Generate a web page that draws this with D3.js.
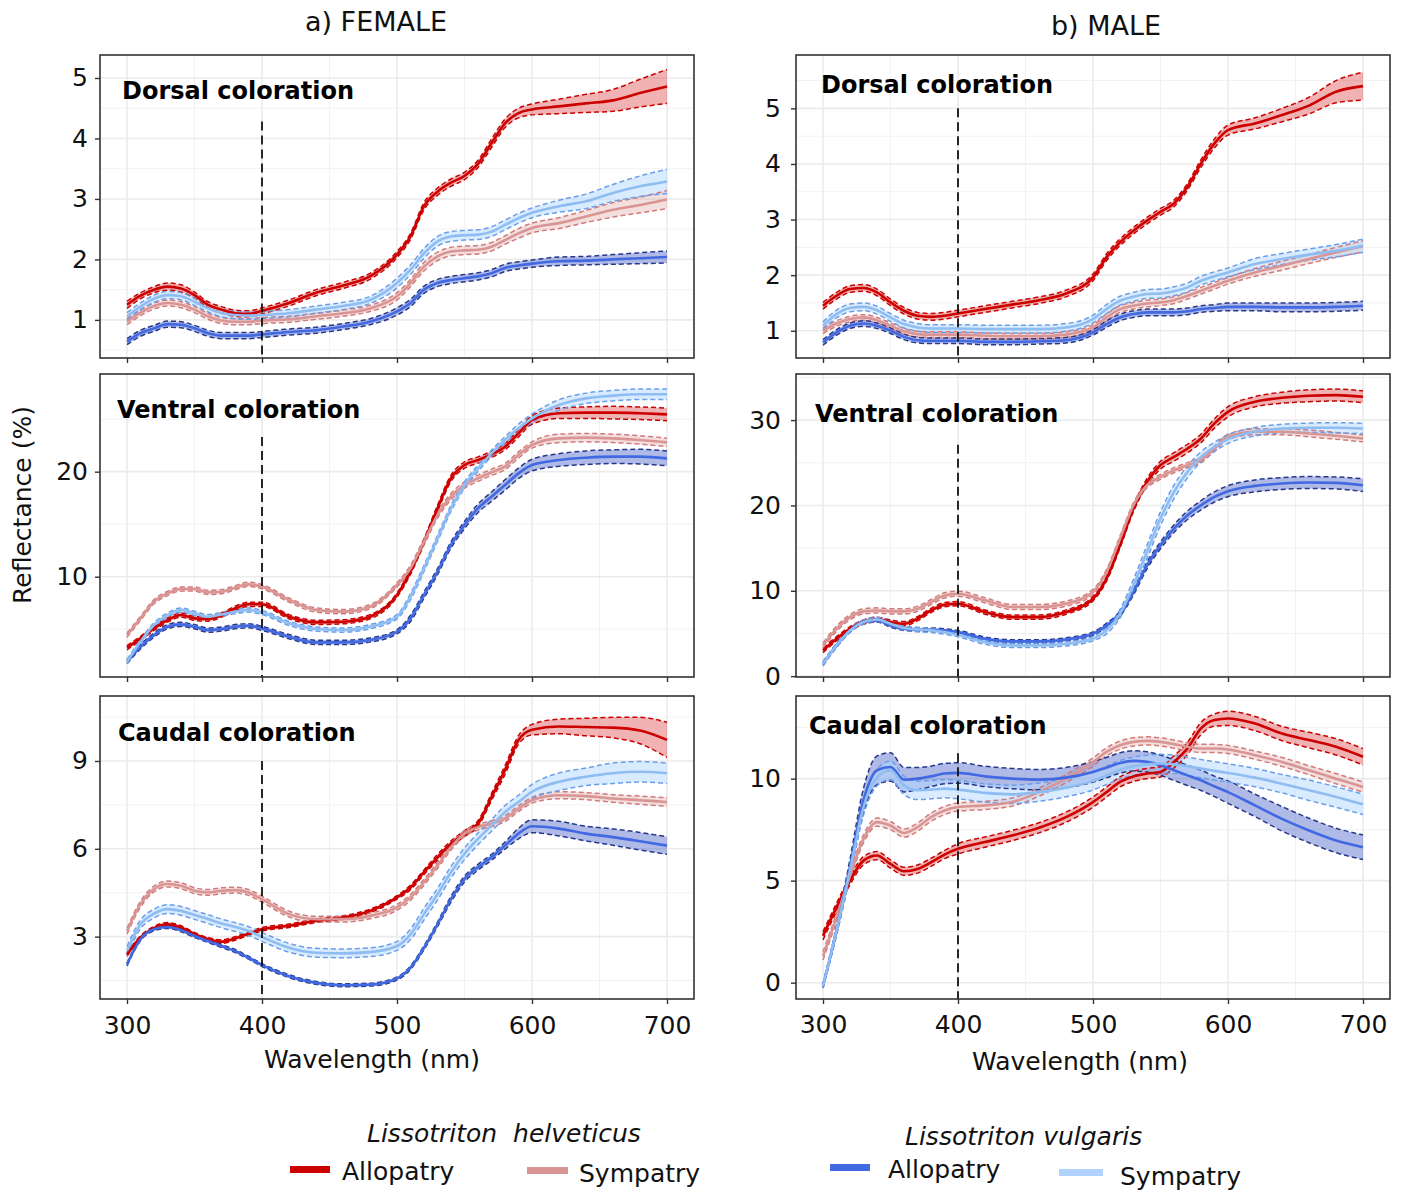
<!DOCTYPE html>
<html>
<head>
<meta charset="utf-8">
<script src="https://cdn.jsdelivr.net/npm/d3@7"></script>
<style>
  body { margin: 0; background: #fff; }
  text { font-family: "DejaVu Sans", Verdana, sans-serif; }
</style>
</head>
<body>
<svg id="chart" width="1404" height="1191"></svg>
<script>
// wavelengths (nm) shared by every spectrum
const wavelengths = [300,310,320,330,340,350,360,370,380,390,400,420,440,460,480,500,510,520,530,540,550,560,570,580,590,600,620,640,660,680,700];

// groups: L. helveticus allopatry / sympatry, L. vulgaris allopatry / sympatry
const groups = ["LhA", "LhS", "LvA", "LvS"];

// ---- female, dorsal ----
const fDorsalLhA = [1.25,1.40,1.50,1.55,1.52,1.41,1.25,1.17,1.11,1.10,1.15,1.28,1.45,1.57,1.72,2.08,2.38,2.88,3.12,3.27,3.38,3.58,3.92,4.25,4.42,4.48,4.53,4.58,4.63,4.75,4.86];
const fDorsalLhACi = [0.06,0.05,0.05,0.06,0.06,0.05,0.05,0.05,0.05,0.05,0.05,0.05,0.05,0.05,0.05,0.05,0.05,0.06,0.06,0.06,0.06,0.06,0.07,0.07,0.08,0.09,0.12,0.15,0.18,0.23,0.28];
const fDorsalLhS = [0.97,1.12,1.23,1.28,1.25,1.17,1.06,0.99,0.97,0.97,0.99,1.01,1.06,1.11,1.19,1.39,1.61,1.88,2.05,2.13,2.15,2.16,2.21,2.32,2.43,2.52,2.60,2.71,2.82,2.90,2.99];
const fDorsalLhSCi = [0.05,0.05,0.05,0.05,0.05,0.05,0.05,0.05,0.05,0.05,0.05,0.05,0.05,0.05,0.05,0.06,0.06,0.07,0.07,0.07,0.07,0.07,0.07,0.07,0.08,0.08,0.09,0.10,0.12,0.13,0.15];
const fDorsalLvA = [0.64,0.78,0.86,0.93,0.92,0.86,0.78,0.74,0.74,0.74,0.76,0.80,0.83,0.89,0.97,1.14,1.28,1.50,1.61,1.66,1.69,1.72,1.77,1.86,1.90,1.93,1.97,1.98,2.00,2.02,2.04];
const fDorsalLvACi = [0.05,0.05,0.05,0.05,0.05,0.05,0.05,0.05,0.05,0.05,0.05,0.05,0.05,0.05,0.05,0.06,0.06,0.06,0.06,0.06,0.06,0.06,0.06,0.06,0.06,0.06,0.07,0.07,0.08,0.09,0.10];
const fDorsalLvS = [1.06,1.22,1.35,1.41,1.39,1.30,1.19,1.11,1.08,1.07,1.08,1.11,1.17,1.23,1.33,1.61,1.83,2.10,2.30,2.38,2.40,2.41,2.46,2.57,2.68,2.77,2.88,2.96,3.10,3.21,3.29];
const fDorsalLvSCi = [0.06,0.06,0.06,0.06,0.06,0.06,0.06,0.06,0.06,0.06,0.06,0.06,0.06,0.06,0.06,0.08,0.08,0.08,0.08,0.08,0.08,0.08,0.08,0.08,0.08,0.08,0.10,0.12,0.14,0.17,0.20];

// ---- female, ventral ----
const fVentralLhA = [3.24,4.13,5.08,5.87,6.35,6.03,5.97,6.35,6.98,7.37,7.37,6.19,5.65,5.71,6.19,8.25,10.48,13.33,16.51,19.37,20.63,21.11,21.65,22.38,23.65,24.92,25.56,25.62,25.62,25.56,25.46];
const fVentralLhACi = [0.2,0.2,0.2,0.2,0.2,0.2,0.2,0.2,0.2,0.2,0.2,0.2,0.2,0.2,0.2,0.2,0.25,0.25,0.3,0.3,0.3,0.3,0.3,0.3,0.35,0.4,0.5,0.55,0.6,0.6,0.6];
const fVentralLhS = [4.44,6.03,7.62,8.41,8.83,8.83,8.51,8.57,8.95,9.27,9.05,7.78,6.83,6.67,7.14,9.21,10.79,13.33,15.87,17.62,18.73,19.37,19.94,20.48,21.59,22.54,23.17,23.24,23.17,23.02,22.79];
const fVentralLhSCi = [0.2,0.2,0.2,0.2,0.2,0.2,0.2,0.2,0.2,0.2,0.2,0.2,0.2,0.2,0.2,0.2,0.3,0.3,0.3,0.3,0.3,0.3,0.3,0.3,0.3,0.3,0.4,0.4,0.4,0.4,0.4];
const fVentralLvA = [1.90,3.33,4.44,5.24,5.46,5.24,4.92,5.02,5.24,5.33,5.08,4.29,3.75,3.75,3.97,4.76,6.03,8.25,10.48,13.02,14.92,16.51,17.62,18.73,19.84,20.63,21.11,21.33,21.43,21.43,21.27];
const fVentralLvACi = [0.2,0.2,0.2,0.2,0.2,0.2,0.2,0.2,0.2,0.2,0.2,0.2,0.2,0.2,0.2,0.2,0.3,0.3,0.3,0.3,0.35,0.4,0.45,0.5,0.5,0.55,0.6,0.65,0.65,0.7,0.7];
const fVentralLvS = [1.90,3.81,5.40,6.35,6.83,6.51,6.19,6.41,6.67,6.83,6.60,5.56,5.02,4.92,5.24,6.19,8.10,10.79,13.65,16.51,18.73,20.32,21.75,23.02,24.13,25.08,26.35,26.98,27.24,27.37,27.37];
const fVentralLvSCi = [0.2,0.2,0.2,0.2,0.2,0.2,0.2,0.2,0.2,0.2,0.2,0.2,0.2,0.2,0.2,0.2,0.3,0.3,0.3,0.3,0.3,0.3,0.3,0.3,0.4,0.4,0.5,0.5,0.5,0.5,0.5];

// ---- female, caudal ----
const fCaudalLhA = [2.39,2.97,3.29,3.42,3.31,3.08,2.91,2.83,2.94,3.10,3.25,3.37,3.54,3.65,3.88,4.34,4.68,5.20,5.71,6.17,6.52,6.86,7.77,8.69,9.72,10.07,10.18,10.16,10.14,10.04,9.72];
const fCaudalLhACi = [0.06,0.06,0.06,0.06,0.06,0.06,0.06,0.06,0.06,0.06,0.06,0.06,0.06,0.06,0.06,0.06,0.08,0.08,0.1,0.1,0.1,0.1,0.12,0.15,0.15,0.18,0.25,0.3,0.35,0.45,0.6];
const fCaudalLhS = [3.19,4.11,4.63,4.80,4.74,4.57,4.51,4.57,4.59,4.51,4.28,3.77,3.60,3.60,3.71,4.00,4.34,4.86,5.43,6.06,6.52,6.74,6.86,7.03,7.37,7.66,7.83,7.80,7.72,7.66,7.60];
const fCaudalLhSCi = [0.1,0.1,0.1,0.1,0.1,0.1,0.1,0.1,0.1,0.1,0.1,0.1,0.1,0.1,0.1,0.1,0.1,0.1,0.1,0.1,0.1,0.1,0.1,0.1,0.1,0.1,0.12,0.12,0.13,0.14,0.15];
const fCaudalLvA = [2.05,2.91,3.25,3.33,3.22,3.02,2.85,2.68,2.51,2.28,2.03,1.65,1.42,1.34,1.36,1.57,1.94,2.62,3.42,4.28,4.97,5.37,5.71,6.11,6.52,6.77,6.69,6.52,6.40,6.26,6.11];
const fCaudalLvACi = [0.05,0.05,0.05,0.05,0.05,0.05,0.05,0.05,0.05,0.05,0.05,0.05,0.05,0.05,0.05,0.05,0.06,0.07,0.08,0.1,0.1,0.1,0.1,0.12,0.18,0.22,0.25,0.25,0.28,0.3,0.3];
const fCaudalLvS = [2.51,3.42,3.79,3.94,3.88,3.74,3.60,3.45,3.33,3.19,2.99,2.62,2.45,2.43,2.47,2.68,3.08,3.77,4.45,5.20,5.83,6.34,6.80,7.26,7.60,7.95,8.29,8.46,8.58,8.63,8.58];
const fCaudalLvSCi = [0.15,0.15,0.15,0.15,0.15,0.15,0.15,0.15,0.15,0.15,0.15,0.15,0.15,0.15,0.15,0.15,0.18,0.2,0.2,0.2,0.2,0.2,0.2,0.22,0.23,0.25,0.3,0.3,0.35,0.35,0.35];

// ---- male, dorsal ----
const mDorsalLhA = [1.45,1.63,1.75,1.77,1.69,1.51,1.36,1.27,1.25,1.27,1.31,1.39,1.47,1.55,1.67,1.96,2.32,2.59,2.80,2.98,3.14,3.29,3.59,4.01,4.37,4.61,4.73,4.88,5.05,5.30,5.40];
const mDorsalLhACi = [0.06,0.06,0.06,0.06,0.06,0.06,0.06,0.06,0.06,0.06,0.06,0.06,0.06,0.06,0.06,0.06,0.06,0.06,0.06,0.06,0.06,0.06,0.06,0.07,0.08,0.09,0.1,0.12,0.15,0.2,0.25];
const mDorsalLhS = [1.00,1.13,1.21,1.24,1.19,1.09,0.99,0.94,0.93,0.93,0.93,0.91,0.90,0.90,0.93,1.06,1.24,1.39,1.45,1.49,1.51,1.55,1.63,1.72,1.81,1.90,2.05,2.17,2.29,2.41,2.52];
const mDorsalLhSCi = [0.05,0.05,0.05,0.05,0.05,0.05,0.05,0.05,0.05,0.05,0.05,0.05,0.05,0.05,0.05,0.05,0.06,0.06,0.06,0.06,0.06,0.06,0.06,0.06,0.06,0.06,0.07,0.08,0.08,0.09,0.1];
const mDorsalLvA = [0.79,0.97,1.09,1.13,1.09,1.00,0.89,0.83,0.82,0.82,0.82,0.80,0.80,0.81,0.83,0.97,1.12,1.24,1.30,1.33,1.33,1.33,1.35,1.39,1.41,1.43,1.43,1.42,1.42,1.43,1.45];
const mDorsalLvACi = [0.05,0.05,0.05,0.05,0.05,0.05,0.05,0.05,0.05,0.05,0.05,0.05,0.05,0.05,0.05,0.05,0.06,0.06,0.06,0.06,0.06,0.06,0.06,0.06,0.06,0.07,0.07,0.08,0.08,0.08,0.08];
const mDorsalLvS = [1.09,1.30,1.41,1.43,1.37,1.24,1.12,1.06,1.04,1.04,1.04,1.03,1.03,1.03,1.06,1.21,1.39,1.54,1.61,1.66,1.67,1.71,1.78,1.90,1.98,2.05,2.20,2.29,2.37,2.44,2.53];
const mDorsalLvSCi = [0.07,0.07,0.07,0.07,0.07,0.07,0.07,0.07,0.07,0.07,0.07,0.07,0.07,0.07,0.07,0.07,0.08,0.08,0.08,0.08,0.08,0.08,0.08,0.08,0.08,0.08,0.1,0.1,0.1,0.11,0.12];

// ---- male, ventral ----
const mVentralLhA = [3.01,4.38,5.55,6.34,6.65,6.34,6.14,6.73,7.70,8.37,8.49,7.51,6.92,6.92,7.51,9.07,11.42,15.33,19.63,22.76,24.72,25.69,26.67,27.85,29.61,30.97,32.15,32.62,32.85,32.93,32.73];
const mVentralLhACi = [0.25,0.25,0.25,0.25,0.25,0.25,0.25,0.25,0.25,0.25,0.25,0.25,0.25,0.25,0.25,0.25,0.3,0.3,0.35,0.4,0.45,0.5,0.5,0.5,0.55,0.6,0.6,0.65,0.7,0.7,0.7];
const mVentralLhS = [3.60,5.55,6.92,7.59,7.70,7.59,7.59,7.90,8.68,9.46,9.66,8.88,8.10,8.10,8.49,9.86,12.20,16.11,20.02,22.37,23.35,24.13,24.72,25.30,26.67,28.04,28.63,28.63,28.43,28.16,27.85];
const mVentralLhSCi = [0.3,0.3,0.3,0.3,0.3,0.3,0.3,0.3,0.3,0.3,0.3,0.3,0.3,0.3,0.3,0.3,0.3,0.3,0.3,0.3,0.3,0.3,0.3,0.3,0.3,0.3,0.35,0.35,0.4,0.4,0.4];
const mVentralLvA = [1.45,3.60,5.36,6.34,6.53,5.94,5.55,5.44,5.44,5.36,5.16,4.38,4.07,4.07,4.30,4.97,5.94,7.31,9.86,12.98,15.33,17.29,18.85,20.02,21.00,21.67,22.29,22.57,22.68,22.64,22.37];
const mVentralLvACi = [0.2,0.2,0.2,0.2,0.2,0.2,0.2,0.2,0.2,0.2,0.2,0.2,0.2,0.2,0.2,0.2,0.25,0.3,0.35,0.4,0.4,0.45,0.5,0.55,0.6,0.65,0.7,0.7,0.7,0.7,0.75];
const mVentralLvS = [1.45,3.60,5.36,6.34,6.65,6.14,5.63,5.48,5.36,5.16,4.85,3.99,3.60,3.60,3.79,4.38,5.36,7.31,10.64,14.55,18.46,21.59,23.93,25.69,26.87,27.77,28.63,29.02,29.10,29.10,29.02];
const mVentralLvSCi = [0.25,0.25,0.25,0.25,0.25,0.25,0.25,0.25,0.25,0.25,0.25,0.25,0.25,0.25,0.25,0.25,0.4,0.5,0.7,0.8,0.8,0.8,0.7,0.6,0.55,0.5,0.5,0.5,0.55,0.6,0.6];

// ---- male, caudal ----
const mCaudalLhA = [2.30,3.69,5.00,5.98,6.23,5.82,5.46,5.57,5.90,6.28,6.56,6.89,7.21,7.59,8.11,8.85,9.34,9.84,10.11,10.25,10.33,10.82,11.48,12.46,12.87,12.95,12.70,12.21,11.89,11.56,11.07];
const mCaudalLhACi = [0.2,0.2,0.2,0.2,0.2,0.2,0.2,0.2,0.2,0.2,0.25,0.25,0.25,0.25,0.25,0.25,0.25,0.25,0.25,0.25,0.25,0.3,0.3,0.3,0.3,0.35,0.35,0.35,0.38,0.4,0.4];
const mCaudalLhS = [1.31,3.20,5.25,7.05,7.87,7.70,7.33,7.62,8.11,8.44,8.61,8.69,8.85,9.34,10.00,10.82,11.31,11.64,11.80,11.85,11.80,11.69,11.56,11.48,11.48,11.43,11.15,10.82,10.41,10.00,9.59];
const mCaudalLhSCi = [0.2,0.2,0.2,0.2,0.2,0.2,0.2,0.2,0.2,0.2,0.2,0.2,0.2,0.2,0.2,0.2,0.2,0.2,0.2,0.2,0.2,0.2,0.2,0.2,0.2,0.2,0.2,0.22,0.22,0.25,0.25];
const mCaudalLvA = [-0.16,2.54,5.66,8.93,10.41,10.57,9.95,10.00,10.11,10.25,10.28,10.11,10.00,9.95,10.05,10.33,10.54,10.77,10.87,10.82,10.66,10.41,10.16,9.92,9.62,9.34,8.69,8.03,7.46,6.97,6.64];
const mCaudalLvACi = [0.1,0.2,0.4,0.6,0.7,0.7,0.6,0.55,0.5,0.5,0.5,0.5,0.5,0.5,0.5,0.5,0.5,0.5,0.5,0.5,0.5,0.5,0.5,0.5,0.5,0.55,0.55,0.6,0.6,0.6,0.6];
const mCaudalLvS = [-0.16,2.54,5.49,8.61,10.05,10.41,9.67,9.43,9.46,9.51,9.46,9.30,9.23,9.34,9.56,9.89,10.16,10.44,10.61,10.70,10.74,10.70,10.61,10.49,10.38,10.28,10.05,9.75,9.43,9.10,8.74];
const mCaudalLvSCi = [0.1,0.2,0.3,0.4,0.4,0.45,0.45,0.45,0.45,0.45,0.45,0.45,0.45,0.45,0.45,0.45,0.45,0.45,0.45,0.45,0.45,0.45,0.45,0.45,0.45,0.45,0.45,0.45,0.5,0.5,0.5];

// axis ticks
const xTicks = [300, 400, 500, 600, 700];
const xMinorTicks = [350, 450, 550, 650];
const fDorsalTicks = [1, 2, 3, 4, 5];
const fVentralTicks = [10, 20];
const fCaudalTicks = [3, 6, 9];
const mDorsalTicks = [1, 2, 3, 4, 5];
const mVentralTicks = [0, 10, 20, 30];
const mCaudalTicks = [0, 5, 10];

const legendLabels = ["Allopatry", "Sympatry", "Allopatry", "Sympatry"];

// ---------- styles / layout ----------
const styles = {
  LhA: { line: "#cc0000", fill: "#cc0000", op: 0.30, dash: "#cc0000", key: "#cc0000" },
  LhS: { line: "#d99594", fill: "#d99594", op: 0.30, dash: "#d27a7a", key: "#d99594" },
  LvA: { line: "#4169e1", fill: "#3a52c4", op: 0.40, dash: "#27388a", key: "#4169e1" },
  LvS: { line: "#8fbdf2", fill: "#b4d8ff", op: 0.50, dash: "#6b9ee8", key: "#b0d2fc" }
};

const cols = [
  { x0: 100, x1: 694, labelPad: 7, xPad: 12, title: "a) FEMALE", titleX: 376, titleY: 31, xLabX: 372, xLabY: 1068 },
  { x0: 796, x1: 1390, labelPad: 10, xPad: 11, title: "b) MALE", titleX: 1106, titleY: 35, xLabX: 1080, xLabY: 1070 }
];
const rows = [[55, 358], [374, 677], [696, 999]];

const panels = [
  { col: 0, row: 0, label: "Dorsal coloration", lx: 122, ly: 99, domain: [0.37, 5.38], ticks: fDorsalTicks, vTop: 4.28,
    series: { LhA: [fDorsalLhA, fDorsalLhACi], LhS: [fDorsalLhS, fDorsalLhSCi], LvA: [fDorsalLvA, fDorsalLvACi], LvS: [fDorsalLvS, fDorsalLvSCi] } },
  { col: 0, row: 1, label: "Ventral coloration", lx: 117, ly: 418, domain: [0.45, 29.3], ticks: fVentralTicks, vTop: 23.3,
    series: { LhA: [fVentralLhA, fVentralLhACi], LhS: [fVentralLhS, fVentralLhSCi], LvA: [fVentralLvA, fVentralLvACi], LvS: [fVentralLvS, fVentralLvSCi] } },
  { col: 0, row: 2, label: "Caudal coloration", lx: 118, ly: 741, domain: [0.87, 11.22], ticks: fCaudalTicks, vTop: 9.0,
    series: { LhA: [fCaudalLhA, fCaudalLhACi], LhS: [fCaudalLhS, fCaudalLhSCi], LvA: [fCaudalLvA, fCaudalLvACi], LvS: [fCaudalLvS, fCaudalLvSCi] } },
  { col: 1, row: 0, label: "Dorsal coloration", lx: 821, ly: 93, domain: [0.51, 5.96], ticks: mDorsalTicks, vTop: 5.0,
    series: { LhA: [mDorsalLhA, mDorsalLhACi], LhS: [mDorsalLhS, mDorsalLhSCi], LvA: [mDorsalLvA, mDorsalLvACi], LvS: [mDorsalLvS, mDorsalLvSCi] } },
  { col: 1, row: 1, label: "Ventral coloration", lx: 815, ly: 422, domain: [-0.1, 35.4], ticks: mVentralTicks, vTop: 27.1,
    series: { LhA: [mVentralLhA, mVentralLhACi], LhS: [mVentralLhS, mVentralLhSCi], LvA: [mVentralLvA, mVentralLvACi], LvS: [mVentralLvS, mVentralLvSCi] } },
  { col: 1, row: 2, label: "Caudal coloration", lx: 809, ly: 734, domain: [-0.8, 14.05], ticks: mCaudalTicks, vTop: 11.25,
    series: { LhA: [mCaudalLhA, mCaudalLhACi], LhS: [mCaudalLhS, mCaudalLhSCi], LvA: [mCaudalLvA, mCaudalLvACi], LvS: [mCaudalLvS, mCaudalLvSCi] } }
];

const svg = d3.select("#chart");
const FONT = 25;

panels.forEach((p, i) => {
  const c = cols[p.col];
  const [y0, y1] = rows[p.row];
  const x = d3.scaleLinear().domain([280, 720]).range([c.x0, c.x1]);
  const y = d3.scaleLinear().domain(p.domain).range([y1, y0]);

  const g = svg.append("g");
  const clipId = "clip" + i;
  g.append("clipPath").attr("id", clipId)
    .append("rect").attr("x", c.x0).attr("y", y0).attr("width", c.x1 - c.x0).attr("height", y1 - y0);

  // grid
  const yStep = p.ticks[1] - p.ticks[0];
  const yMinor = d3.range(p.ticks[0] - yStep / 2, p.domain[1], yStep).filter(v => v > p.domain[0] && v < p.domain[1]);
  const grid = g.append("g");
  grid.selectAll(".gxm").data(xMinorTicks).join("line")
    .attr("x1", d => x(d)).attr("x2", d => x(d)).attr("y1", y0).attr("y2", y1)
    .attr("stroke", "#f2f2f2").attr("stroke-width", 1);
  grid.selectAll(".gym").data(yMinor).join("line")
    .attr("x1", c.x0).attr("x2", c.x1).attr("y1", d => y(d)).attr("y2", d => y(d))
    .attr("stroke", "#f2f2f2").attr("stroke-width", 1);
  grid.selectAll(".gx").data(xTicks).join("line")
    .attr("x1", d => x(d)).attr("x2", d => x(d)).attr("y1", y0).attr("y2", y1)
    .attr("stroke", "#ebebeb").attr("stroke-width", 1.6);
  grid.selectAll(".gy").data(p.ticks).join("line")
    .attr("x1", c.x0).attr("x2", c.x1).attr("y1", d => y(d)).attr("y2", d => y(d))
    .attr("stroke", "#ebebeb").attr("stroke-width", 1.6);

  const plot = g.append("g").attr("clip-path", `url(#${clipId})`);
  const rowsOf = key => wavelengths.map((w, k) => ({ w, m: p.series[key][0][k], ci: p.series[key][1][k] }));
  const curve = d3.curveMonotoneX;

  const area = d3.area().curve(curve).x(d => x(d.w)).y0(d => y(d.m - d.ci)).y1(d => y(d.m + d.ci));
  const lineM = d3.line().curve(curve).x(d => x(d.w)).y(d => y(d.m));
  const lineLo = d3.line().curve(curve).x(d => x(d.w)).y(d => y(d.m - d.ci));
  const lineHi = d3.line().curve(curve).x(d => x(d.w)).y(d => y(d.m + d.ci));

  groups.forEach(key => {
    plot.append("path").datum(rowsOf(key)).attr("d", area)
      .attr("fill", styles[key].fill).attr("fill-opacity", styles[key].op);
  });
  groups.forEach(key => {
    [lineLo, lineHi].forEach(fn => {
      plot.append("path").datum(rowsOf(key)).attr("d", fn)
        .attr("fill", "none").attr("stroke", styles[key].dash)
        .attr("stroke-width", 1.5).attr("stroke-dasharray", "5,3");
    });
  });
  groups.forEach(key => {
    plot.append("path").datum(rowsOf(key)).attr("d", lineM)
      .attr("fill", "none").attr("stroke", styles[key].line).attr("stroke-width", 2.6);
  });

  // 400 nm marker
  plot.append("line")
    .attr("x1", x(400)).attr("x2", x(400)).attr("y1", y(p.vTop)).attr("y2", y1)
    .attr("stroke", "#111").attr("stroke-width", 1.8).attr("stroke-dasharray", "9,5");

  // frame
  g.append("rect").attr("x", c.x0).attr("y", y0).attr("width", c.x1 - c.x0).attr("height", y1 - y0)
    .attr("fill", "none").attr("stroke", "#333").attr("stroke-width", 1.6);

  // axes
  const bottomRow = p.row === 2;
  const xAxis = d3.axisBottom(x).tickValues(xTicks).tickSize(5).tickPadding(c.xPad)
    .tickFormat(bottomRow ? d3.format("d") : () => "");
  const yAxis = d3.axisLeft(y).tickValues(p.ticks).tickSize(5).tickPadding(c.labelPad).tickFormat(d3.format("d"));

  [[xAxis, `translate(0,${y1})`], [yAxis, `translate(${c.x0},0)`]].forEach(([ax, tr]) => {
    const a = g.append("g").attr("transform", tr).call(ax);
    a.select(".domain").remove();
    a.selectAll("line").attr("stroke", "#333").attr("stroke-width", 1.4);
    a.selectAll("text").attr("fill", "#111").style("font-size", FONT + "px")
      .style("font-family", '"DejaVu Sans", Verdana, sans-serif');
  });

  g.append("text").attr("x", p.lx).attr("y", p.ly)
    .style("font-size", "24px").style("font-weight", "bold").attr("fill", "#000").text(p.label);
});

// column titles and x-axis titles
cols.forEach(c => {
  svg.append("text").attr("x", c.titleX).attr("y", c.titleY).attr("text-anchor", "middle")
    .style("font-size", "27px").attr("fill", "#111").text(c.title);
  svg.append("text").attr("x", c.xLabX).attr("y", c.xLabY).attr("text-anchor", "middle")
    .style("font-size", FONT + "px").attr("fill", "#111").text("Wavelength (nm)");
});

svg.append("text").attr("transform", "translate(31,505) rotate(-90)").attr("text-anchor", "middle")
  .style("font-size", FONT + "px").attr("fill", "#111").text("Reflectance (%)");

// legend
const legendSpecies = [
  { text: "Lissotriton  helveticus", x: 367, y: 1142 },
  { text: "Lissotriton vulgaris", x: 905, y: 1145 }
];
legendSpecies.forEach(s => {
  svg.append("text").attr("x", s.x).attr("y", s.y).style("font-size", FONT + "px")
    .style("font-style", "italic").style("white-space", "pre").attr("fill", "#111").text(s.text);
});
const legendPos = [
  { kx: 290, ky: 1166, kw: 40, tx: 342, ty: 1180 },
  { kx: 527, ky: 1167, kw: 41, tx: 579, ty: 1182 },
  { kx: 830, ky: 1164, kw: 40, tx: 888, ty: 1178 },
  { kx: 1059, ky: 1169, kw: 44, tx: 1120, ty: 1185 }
];
groups.forEach((key, i) => {
  const lp = legendPos[i];
  svg.append("rect").attr("x", lp.kx).attr("y", lp.ky).attr("width", lp.kw).attr("height", 7)
    .attr("fill", styles[key].key);
  svg.append("text").attr("x", lp.tx).attr("y", lp.ty).style("font-size", FONT + "px")
    .attr("fill", "#111").text(legendLabels[i]);
});
</script>
</body>
</html>
